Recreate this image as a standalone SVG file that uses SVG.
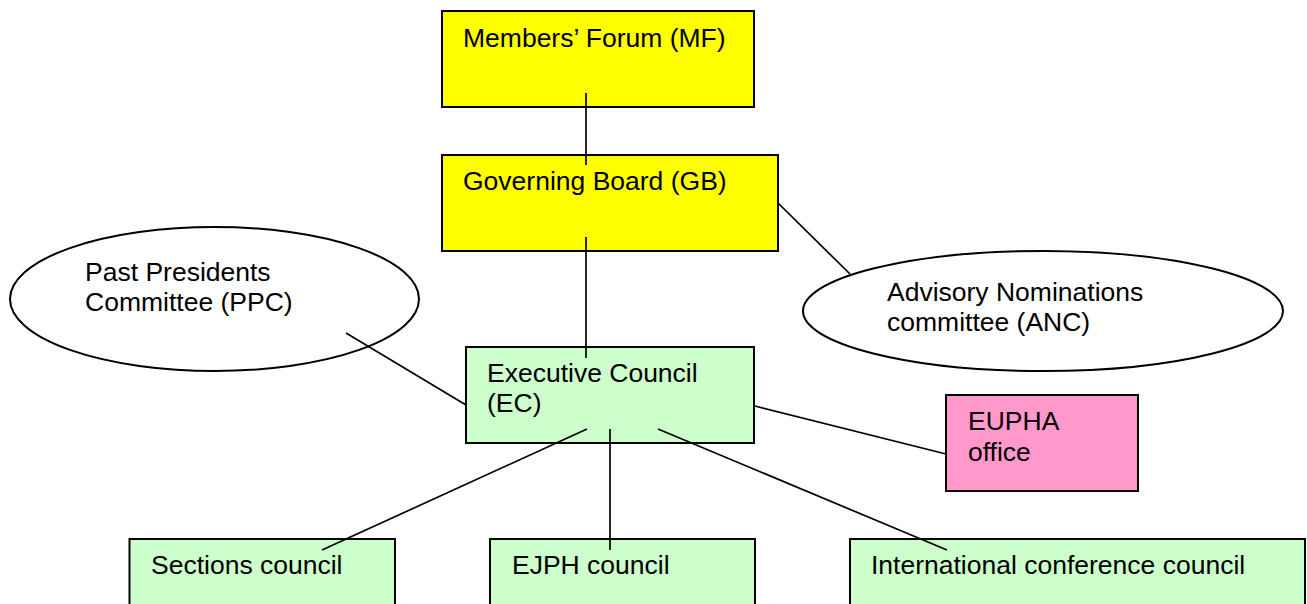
<svg xmlns="http://www.w3.org/2000/svg" width="1307" height="604" viewBox="0 0 1307 604">
<style>
.box{stroke:#000;stroke-width:2}
.yellow{fill:#ffff00}
.green{fill:#ccffcc}
.pink{fill:#ff99cc}
.oval{fill:#fff;stroke:#000;stroke-width:2}
.lbl{font-family:"Liberation Sans",Arial,sans-serif;font-size:26.5px;fill:#000}
.conn line{stroke:#000;stroke-width:1.7}
</style>
<rect width="1307" height="604" fill="#fff"/>
<g id="mf"><rect class="box yellow" x="442" y="11" width="312" height="96"/><text class="lbl" x="463" y="46.5">Members’ Forum (MF)</text></g>
<g id="gb"><rect class="box yellow" x="442" y="155" width="336" height="96"/><text class="lbl" x="463" y="190">Governing Board (GB)</text></g>
<g id="ppc"><ellipse class="oval" cx="214.5" cy="299" rx="204.5" ry="72"/><text class="lbl" x="85" y="281">Past Presidents</text><text class="lbl" x="85" y="311">Committee (PPC)</text></g>
<g id="anc"><ellipse class="oval" cx="1043" cy="311" rx="240" ry="60"/><text class="lbl" x="887" y="301">Advisory Nominations</text><text class="lbl" x="887" y="331">committee (ANC)</text></g>
<g id="ec"><rect class="box green" x="466" y="347" width="288" height="96"/><text class="lbl" x="487" y="381.5">Executive Council</text><text class="lbl" x="487" y="411.5">(EC)</text></g>
<g id="office"><rect class="box pink" x="946" y="395" width="192" height="96"/><text class="lbl" x="968" y="430">EUPHA</text><text class="lbl" x="968" y="461">office</text></g>
<g id="sections"><rect class="box green" x="129.5" y="539" width="265.5" height="100"/><text class="lbl" x="151" y="574">Sections council</text></g>
<g id="ejph"><rect class="box green" x="490" y="539" width="265" height="100"/><text class="lbl" x="512" y="574">EJPH council</text></g>
<g id="icc"><rect class="box green" x="850" y="539" width="455" height="100"/><text class="lbl" x="871" y="574">International conference council</text></g>
<g id="connectors" class="conn">
<line x1="586" y1="93" x2="586" y2="165"/>
<line x1="586" y1="237" x2="586" y2="358"/>
<line x1="778" y1="203" x2="850" y2="274"/>
<line x1="346" y1="333" x2="466" y2="405"/>
<line x1="755" y1="406" x2="946" y2="454"/>
<line x1="587" y1="429" x2="322" y2="550"/>
<line x1="610" y1="429" x2="610" y2="550"/>
<line x1="658" y1="429" x2="947" y2="550"/>
</g>
</svg>
